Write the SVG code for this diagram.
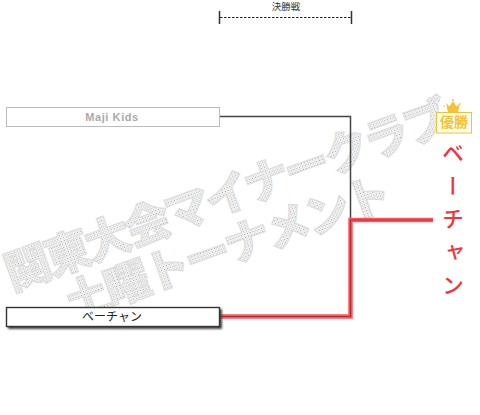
<svg xmlns="http://www.w3.org/2000/svg" width="480" height="415" viewBox="0 0 480 415">
<style>
.cjk{font-family:"Noto Sans CJK JP","Liberation Sans",sans-serif}
.wm{font-family:"Noto Sans CJK JP",sans-serif;font-weight:900;font-size:46px;fill:url(#dots);stroke:#dcdcdc;stroke-width:1;letter-spacing:-3.5px}
.lbl{text-anchor:middle}
</style>
<defs>
<pattern id="dots" width="3" height="3" patternUnits="userSpaceOnUse">
<rect width="3" height="3" fill="#fbfbfb"/><rect width="1" height="1" fill="#a6a6a6"/><rect x="1.500" y="1.500" width="1" height="1" fill="#a6a6a6"/>
</pattern>
<filter id="sh" x="-5%" y="-20%" width="110%" height="150%"><feGaussianBlur stdDeviation="0.800"/></filter>
</defs>
<g id="watermark">
<text class="wm" transform="translate(12 291) rotate(-20)">関東大会マイナークラブ</text>
<text class="wm" transform="translate(71 321) rotate(-19.500)">土曜トーナメント</text>
</g>
<g id="header">
<text class="cjk" x="286" y="10" font-size="9.500" text-anchor="middle" fill="#333">決勝戦</text>
<path d="M219.500 11V24M351.500 11V24" stroke="#333" stroke-width="1.500" fill="none"/>
<path d="M220 17.500H351" stroke="#222" stroke-width="1" stroke-dasharray="2.500 1.500" fill="none"/>
</g>
<g id="connectors" fill="none">
<path d="M220 116.500H350.500V220" stroke="#444" stroke-width="1.500"/>
<path d="M220 316.500H350.500V220H433" stroke="#ff565c" stroke-width="4.500"/>
<path d="M220 316.500H350.500V220H433" stroke="#b02a30" stroke-width="1.200"/>
</g>
<g id="node-majikids">
<rect x="6.500" y="107.500" width="213" height="19" fill="#fff" stroke="#bbb"/>
<text class="lbl" x="112" y="121" font-size="11" font-family="'Liberation Sans',sans-serif" font-weight="700" letter-spacing="0.600" fill="#aaa">Maji Kids</text>
</g>
<g id="node-bechan">
<rect x="8" y="309" width="214" height="20" fill="#444" filter="url(#sh)"/>
<rect x="6.500" y="307.500" width="213" height="19" fill="#fff" stroke="#333" stroke-width="1.400"/>
<text class="lbl cjk" x="112" y="321" font-size="12" fill="#222">ベーチャン</text>
</g>
<g id="winner">
<rect x="440" y="98" width="30" height="14" fill="#fff"/>
<rect x="436.500" y="112.500" width="35" height="20.500" fill="#fffdf2" stroke="#f5c236"/>
<text class="cjk" x="454" y="127" font-size="14" font-weight="700" text-anchor="middle" fill="#f5c236">優勝</text>
<path d="M446 103L449.500 106.500L453 101L456.500 106.500L460 103L458 112H448Z" fill="#f5c236"/>
<circle cx="453" cy="100" r="1" fill="#f5c236"/><circle cx="444" cy="106" r="0.800" fill="#f5c236"/><circle cx="460" cy="104" r="0.800" fill="#f5c236"/>
</g>
<g id="champion">
<text class="cjk" x="453" y="142" font-size="22" font-weight="500" fill="#f5333a" writing-mode="vertical-rl" letter-spacing="11">ベーチャン</text>
</g>
</svg>
